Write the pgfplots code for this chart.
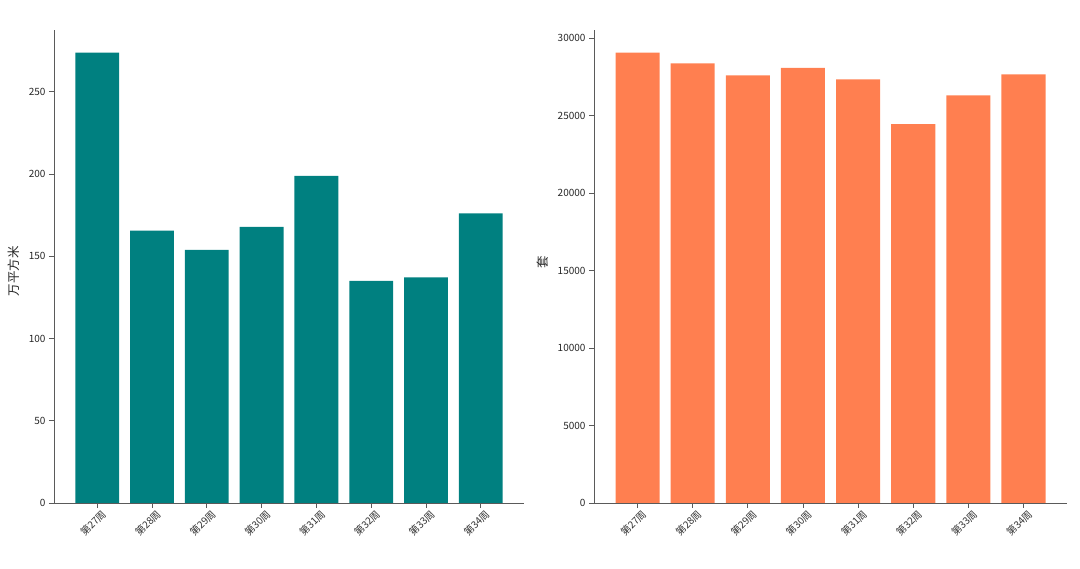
\documentclass[border=0pt]{standalone}
\usepackage{fontspec}
\setmainfont{Noto Sans CJK SC}
\usepackage{pgfplots}
\pgfplotsset{compat=1.18}
\definecolor{tealbar}{HTML}{008080}
\definecolor{coralbar}{HTML}{FF7F50}
\definecolor{spine}{HTML}{5A5A5A}
\pgfplotsset{
  mystyle/.style={
    scale only axis,
    width=470pt, height=473pt,
    anchor=south west,
    axis x line*=bottom, axis y line*=left,
    axis line style={spine, line width=0.9pt},
    xmin=-0.79, xmax=7.79,
    ymin=0,
    xtick={0,...,7},
    xticklabels={第27周,第28周,第29周,第30周,第31周,第32周,第33周,第34周},
    x tick label style={rotate=45, anchor=north east, font=\fontsize{10}{11}\selectfont, text=black!80, inner sep=1pt, yshift=-2pt, xshift=3pt},
    y tick label style={font=\fontsize{10}{11}\selectfont, text=black!85},
    tick align=outside,
    major tick length=5pt,
    tick style={spine, line width=0.8pt},
    /pgf/number format/assume math mode=true,
    /pgf/number format/1000 sep={},
    scaled y ticks=false,
    ybar, bar width=0.8,
    clip=false,
  }
}
\begin{document}
\begin{tikzpicture}[x=1pt,y=1pt]
\useasboundingbox (0,0) rectangle (1080,569);
\begin{axis}[mystyle, at={(54pt,66pt)}, ymax=287.5,
  ytick={0,50,100,150,200,250},
  ylabel={万平方米},
  ylabel style={at={(axis description cs:-0.085,0.49)}, anchor=center, rotate=0, font=\fontsize{12.5}{13}\selectfont, text=black!85}]
\addplot[fill=tealbar, draw=none] coordinates {
(0,273.8) (1,165.5) (2,153.8) (3,167.9) (4,198.8) (5,135.0) (6,137.2) (7,176.1)};
\end{axis}
\begin{axis}[mystyle, at={(594pt,66pt)}, width=473pt, ymax=30540,
  ytick={0,5000,10000,15000,20000,25000,30000},
  ylabel={套},
  ylabel style={at={(axis description cs:-0.108,0.51)}, anchor=center, rotate=0, font=\fontsize{12.5}{13}\selectfont, text=black!85}]
\addplot[fill=coralbar, draw=none] coordinates {
(0,29086) (1,28383) (2,27609) (3,28101) (4,27352) (5,24469) (6,26320) (7,27680)};
\end{axis}
\end{tikzpicture}
\end{document}
